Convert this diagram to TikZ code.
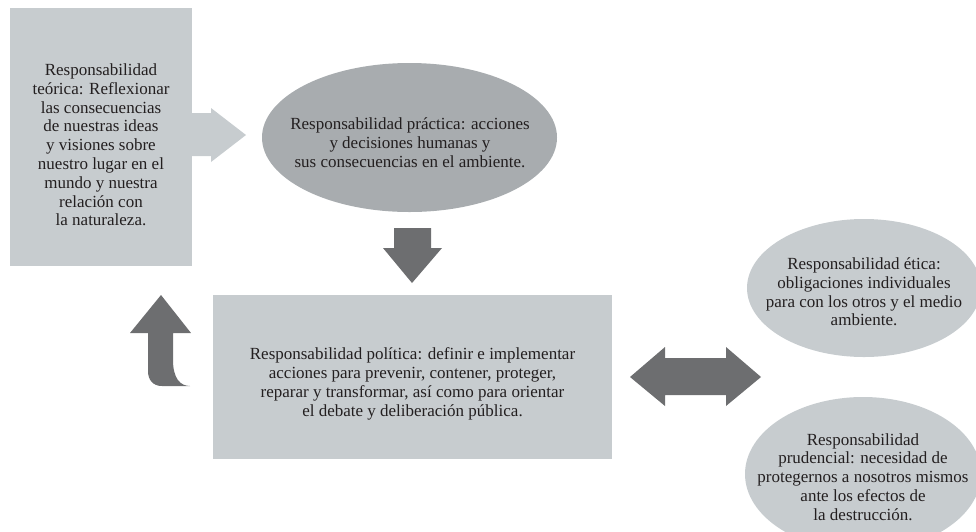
\documentclass[tikz,border=0pt]{standalone}
\usepackage{fontspec}
\setmainfont{Liberation Serif}
\usepackage{xcolor}
\usetikzlibrary{positioning,shapes.geometric}

\definecolor{panelgray}{RGB}{199,204,207}
\definecolor{ovalgray}{RGB}{168,172,175}
\definecolor{arrowgray}{RGB}{109,110,112}
\definecolor{textgray}{RGB}{35,31,32}

\begin{document}
\begin{tikzpicture}[
  x=1pt, y=-1pt,
  font=\fontsize{17}{18.8}\selectfont,
  panel/.style={
    rectangle,
    fill=panelgray,
    inner sep=0pt
  },
  txt/.style={
    align=center,
    text=textgray,
    inner sep=0pt
  },
  oval/.style={
    ellipse,
    fill=ovalgray,
    inner sep=0pt
  },
  lightoval/.style={
    oval,
    fill=panelgray
  },
  blockarr/.style={fill=arrowgray, draw=none},
  lightarr/.style={fill=panelgray, draw=none}
]

\useasboundingbox (0,0) rectangle (976,531);

\node[panel, minimum width=182, minimum height=258] (teorica) at (101,137) {};
\node[txt] (teoricatxt) at (101,145) {Responsabilidad\\teórica: Reflexionar\\las consecuencias\\de nuestras ideas\\y visiones sobre\\nuestro lugar en el\\mundo y nuestra\\relación con\\la naturaleza.};

\node[oval, minimum width=295, minimum height=149] (practica) at (409.5,137.5) {};
\node[txt] (practicatxt) at (410,143)
  {Responsabilidad práctica: acciones\\y decisiones humanas y\\sus consecuencias en el ambiente.};

\node[panel, minimum width=399, minimum height=164] (politica) at (412.5,377) {};
\node[txt] (politicatxt) at (412.5,384) {Responsabilidad política: definir e implementar\\acciones para prevenir, contener, proteger,\\reparar y transformar, así como para orientar\\el debate y deliberación pública.};

\node[lightoval, minimum width=234, minimum height=138] (etica) at (864,288) {};
\node[txt] (eticatxt) at (864,292)
  {Responsabilidad ética:\\obligaciones individuales\\para con los otros y el medio\\ambiente.};

\node[lightoval, minimum width=236, minimum height=154] (prudencial) at (863,474) {};
\node[txt] (prudencialtxt) at (863,477)
  {Responsabilidad\\prudencial: necesidad de\\protegernos a nosotros mismos\\ante los efectos de\\la destrucción.};

% block arrows
\fill[lightarr] (190,113) -- (211,113) -- (211,108) -- (246,135) -- (211,162) -- (211,156) -- (190,156) -- cycle;
\fill[blockarr] (394,228) -- (431,228) -- (431,248) -- (442,248) -- (412,283) -- (383,248) -- (394,248) -- cycle;
\fill[blockarr] (630,377) -- (665,347) -- (665,358) -- (726,358) -- (726,347) -- (761,377)
  -- (726,406) -- (726,395) -- (665,395) -- (665,406) -- cycle;
\fill[blockarr] (161,295) -- (191,333) -- (173,333) -- (173,360)
  .. controls (173,378) and (180,386) .. (190,386) -- (162,386)
  .. controls (153,386) and (148,380) .. (148,371) -- (148,333) -- (130,333) -- cycle;

\end{tikzpicture}
\end{document}
